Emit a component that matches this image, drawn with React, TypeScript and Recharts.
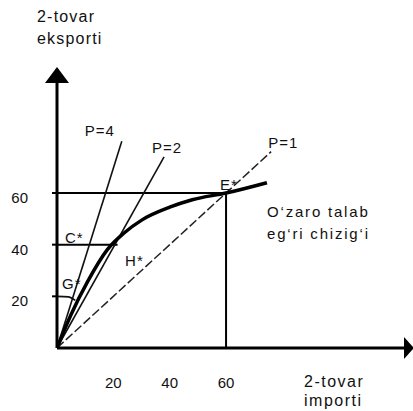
import React from 'react';
import {
  ComposedChart,
  Line,
  XAxis,
  YAxis,
  ReferenceLine,
  ReferenceDot,
} from 'recharts';

// price lines through the origin
const lineP4 = [
  { x: 0, y: 0 },
  { x: 23, y: 80 },
];
const lineP2 = [
  { x: 0, y: 0 },
  { x: 38, y: 74 },
];
const lineP1 = [
  { x: 0, y: 0 },
  { x: 76, y: 76 },
];

// offer curve (O'zaro talab egri chizig'i)
const offerCurve = [
  { x: 0, y: 0 },
  { x: 5, y: 13 },
  { x: 11, y: 26 },
  { x: 17.8, y: 38 },
  { x: 23.8, y: 44.5 },
  { x: 30.2, y: 49.6 },
  { x: 40, y: 54.5 },
  { x: 48, y: 57.4 },
  { x: 60, y: 60 },
  { x: 74.5, y: 64 },
];

// small arc at G*
const arcG = [
  { x: 0, y: 20 },
  { x: 4, y: 19.8 },
  { x: 6.5, y: 18.4 },
];

const xTicks = [20, 40, 60];
const yTicks = [20, 40, 60];

const pointE = { x: 60, y: 60 };
const pointC = { x: 21.5, y: 40 };
const pointH = { x: 23.8, y: 44.5 };

const X_MAX = 126;
const Y_MAX = 108;

const FONT = '"Liberation Sans", Arial, sans-serif';

function tag(lines: string[], dx: number, dy: number, size = 15, spacing = 1, lineGap = 21) {
  return {
    content: (props: any) => {
      const vb = props.viewBox || {};
      const x = (vb.x ?? 0) + dx;
      const y = (vb.y ?? 0) + dy;
      return (
        <text x={x} y={y} fontFamily={FONT} fontSize={size} letterSpacing={spacing} fill="#111">
          {lines.map((l, i) => (
            <tspan key={i} x={x} y={y + i * lineGap}>
              {l}
            </tspan>
          ))}
        </text>
      );
    },
  };
}

const YTick = (props: any) => {
  const { x, y, payload } = props;
  return (
    <text x={x} y={y} dy={10} textAnchor="end" fontFamily={FONT} fontSize={15} fill="#111">
      {payload.value}
    </text>
  );
};

const XTick = (props: any) => {
  const { x, y, payload } = props;
  return (
    <text x={x} y={y} dy={40} textAnchor="middle" fontFamily={FONT} fontSize={15} fill="#111">
      {payload.value}
    </text>
  );
};

const ArrowRight = (props: any) => {
  const { cx, cy } = props;
  return <polygon points={`${cx + 2},${cy} ${cx - 8},${cy - 11} ${cx - 8},${cy + 11}`} fill="#000" />;
};

const ArrowUp = (props: any) => {
  const { cx, cy } = props;
  return <polygon points={`${cx},${cy - 2} ${cx - 12},${cy + 14} ${cx + 12},${cy + 14}`} fill="#000" />;
};

const hidden = { r: 0, fill: 'none', stroke: 'none' };

export default function App() {
  return (
    <div style={{ position: 'absolute', left: 0, top: 0, background: '#fff' }}>
      <ComposedChart
        width={413}
        height={411}
        margin={{ top: 69, right: 1, left: 17, bottom: 23 }}
      >
        <XAxis
          type="number"
          dataKey="x"
          domain={[0, X_MAX]}
          ticks={xTicks}
          tick={<XTick />}
          tickLine={false}
          tickSize={0}
          tickMargin={0}
          height={40}
          axisLine={{ stroke: '#000', strokeWidth: 3 }}
          allowDataOverflow
        />
        <YAxis
          type="number"
          dataKey="y"
          domain={[0, Y_MAX]}
          ticks={yTicks}
          tick={<YTick />}
          tickLine={{ stroke: '#000', strokeWidth: 2 }}
          tickSize={5}
          tickMargin={24}
          width={40}
          axisLine={{ stroke: '#000', strokeWidth: 3 }}
          allowDataOverflow
        />

        <ReferenceLine
          segment={[{ x: 0, y: pointE.y }, { x: pointE.x, y: pointE.y }]}
          stroke="#000"
          strokeWidth={2}
        />
        <ReferenceLine
          segment={[{ x: pointE.x, y: 0 }, { x: pointE.x, y: pointE.y }]}
          stroke="#000"
          strokeWidth={2}
        />
        <ReferenceLine
          segment={[{ x: 0, y: pointC.y }, { x: pointC.x, y: pointC.y }]}
          stroke="#000"
          strokeWidth={2}
        />

        <Line data={lineP1} dataKey="y" type="linear" stroke="#222" strokeWidth={1.5} strokeDasharray="9 3" dot={false} isAnimationActive={false} />
        <Line data={lineP2} dataKey="y" type="linear" stroke="#111" strokeWidth={1.6} dot={false} isAnimationActive={false} />
        <Line data={lineP4} dataKey="y" type="linear" stroke="#111" strokeWidth={1.6} dot={false} isAnimationActive={false} />
        <Line data={arcG} dataKey="y" type="monotone" stroke="#111" strokeWidth={1.6} dot={false} isAnimationActive={false} />
        <Line data={offerCurve} dataKey="y" type="monotone" stroke="#000" strokeWidth={3.5} dot={false} isAnimationActive={false} />

        <ReferenceDot x={X_MAX} y={0} shape={<ArrowRight />} label={tag(['2-tovar', 'importi'], -98, 49, 16, 1.5, 19)} />
        <ReferenceDot x={0} y={Y_MAX} shape={<ArrowUp />} label={tag(['2-tovar', 'eksporti'], -10, -37, 16, 1.2, 22)} />

        <ReferenceDot {...lineP4[1]} {...hidden} label={tag(['P=4'], -37, -5)} />
        <ReferenceDot {...lineP2[1]} {...hidden} label={tag(['P=2'], -12, -4)} />
        <ReferenceDot {...lineP1[1]} {...hidden} label={tag(['P=1'], -3, -4)} />
        <ReferenceDot {...pointE} {...hidden} label={tag(['E*'], -6, -3)} />
        <ReferenceDot x={0} y={pointC.y} {...hidden} label={tag(['C*'], 8, -2)} />
        <ReferenceDot {...arcG[0]} {...hidden} label={tag(['G*'], 5, -7)} />
        <ReferenceDot {...pointH} {...hidden} label={tag(['H*'], 1, 33)} />
        <ReferenceDot {...pointE} {...hidden} label={tag(['O‘zaro talab', 'eg‘ri chizig‘i'], 41, 24, 15, 1.8, 22)} />
      </ComposedChart>
    </div>
  );
}
